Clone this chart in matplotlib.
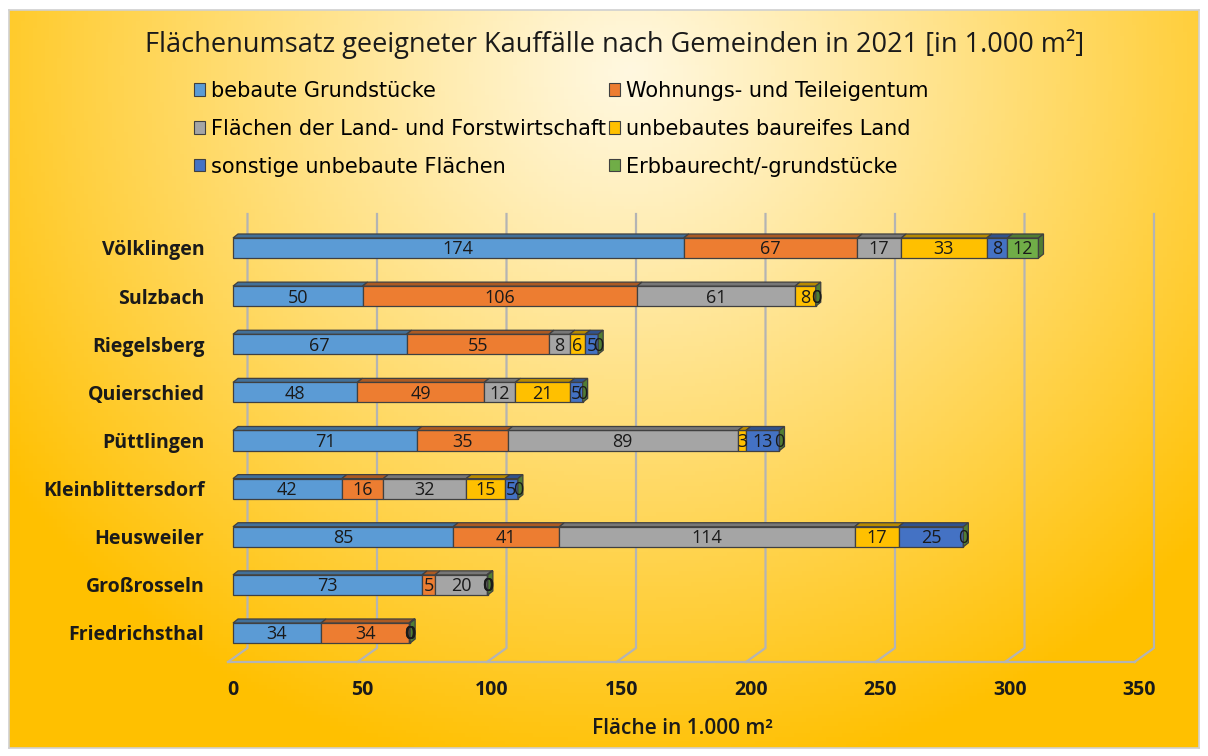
import numpy as np
import matplotlib.pyplot as plt
from matplotlib.patches import Polygon, Patch
from matplotlib.colors import to_rgb

plt.rcParams['font.family'] = ['Open Sans', 'DejaVu Sans']

# data (bottom to top, as drawn)
gemeinden = ['Friedrichsthal', 'Großrosseln', 'Heusweiler', 'Kleinblittersdorf',
             'Püttlingen', 'Quierschied', 'Riegelsberg', 'Sulzbach', 'Völklingen']
bebaut = [34, 73, 85, 42, 71, 48, 67, 50, 174]
wohnung = [34, 5, 41, 16, 35, 49, 55, 106, 67]
landforst = [0, 20, 114, 32, 89, 12, 8, 61, 17]
baureif = [0.4, 0, 17, 15, 3, 21, 6, 8, 33]
sonstige = [0, 0.4, 25, 5, 13, 5, 5, 0, 8]
erbbau = [0, 0, 0, 0, 0, 0, 0, 0, 12]

series_names = ['bebaute Grundstücke', 'Wohnungs- und Teileigentum',
                'Flächen der Land- und Forstwirtschaft', 'unbebautes baureifes Land',
                'sonstige unbebaute Flächen', 'Erbbaurecht/-grundstücke']
series = [bebaut, wohnung, landforst, baureif, sonstige, erbbau]
colors = ['#5B9BD5', '#ED7D31', '#A5A5A5', '#FFC000', '#4472C4', '#70AD47']
xticks = [0, 50, 100, 150, 200, 250, 300, 350]

W, H = 1208, 756
fig = plt.figure(figsize=(W / 100, H / 100), dpi=100)

# background gradient with thin grey frame
bg = fig.add_axes([9 / W, 1 - 748 / H, 1190 / W, 738 / H])
gx, gy = np.meshgrid(np.linspace(0, 1190, 300), np.linspace(0, 738, 200))
t = np.sqrt(((gx - 620) / 760) ** 2 + ((gy - 60) / 720) ** 2)
t = np.clip(t, 0, 1) ** 1.1
light = np.array(to_rgb('#FFF8E0'))
dark = np.array(to_rgb('#FFC000'))
img = light[None, None, :] * (1 - t[..., None]) + dark[None, None, :] * t[..., None]
bg.imshow(img, aspect='auto', extent=[0, 1, 0, 1], origin='upper')
bg.set_xticks([])
bg.set_yticks([])
for s in bg.spines.values():
    s.set_color('#D0D0D0')
    s.set_linewidth(1.2)

# main axes: x=0 at px 233, 2.59 px per unit; categories 48.125 px apart
pxu = 2.59
x_lo, x_hi = -1.93, 360
ax_left = 233 + x_lo * pxu
ax_right = 233 + x_hi * pxu
top_px, bot_px = 214, 662
ax = fig.add_axes([ax_left / W, 1 - bot_px / H, (ax_right - ax_left) / W, (bot_px - top_px) / H])
ax.patch.set_alpha(0)
cat = 48.125
ax.set_xlim(x_lo, x_hi)
ax.set_ylim((633 - bot_px) / cat, (633 - top_px) / cat)

# gridlines on back wall and floor
back_dx = 14.5 / pxu
floor_y_back = (633 - 648) / cat
y_top = (633 - top_px) / cat
y_front = (633 - bot_px) / cat
for v in xticks:
    ax.plot([v + back_dx, v + back_dx, v - 5 / pxu], [y_top, floor_y_back, y_front],
            color='#B4B4B4', lw=1.6, clip_on=False, zorder=1)
ax.plot([-5 / pxu, 350 - 5 / pxu], [y_front, y_front], color='#B4B4B4', lw=1.6,
        clip_on=False, zorder=1)

# 3d-looking stacked bars
y = np.arange(len(gemeinden))
h = 0.208
ddx, ddy = 5 / pxu, 4 / cat
edge = '#404040'
left = np.zeros(len(gemeinden))
for k, (vals, col) in enumerate(zip(series, colors)):
    vals = np.array(vals, dtype=float)
    dcol = tuple(c * 0.72 for c in to_rgb(col))
    ax.barh(y, vals, left=left, height=2 * h, color=col, edgecolor=edge, lw=0.9, zorder=3)
    for i in range(len(gemeinden)):
        x0, x1 = left[i], left[i] + vals[i]
        if vals[i] > 0:
            ax.add_patch(Polygon([[x0, y[i] + h], [x1, y[i] + h], [x1 + ddx, y[i] + h + ddy],
                                  [x0 + ddx, y[i] + h + ddy]], closed=True,
                                 facecolor=dcol, edgecolor=edge, lw=0.9, zorder=3))
        if k == len(series) - 1:
            ax.add_patch(Polygon([[x1, y[i] - h], [x1, y[i] + h], [x1 + ddx, y[i] + h + ddy],
                                  [x1 + ddx, y[i] - h + ddy]], closed=True,
                                 facecolor=dcol, edgecolor=edge, lw=0.9, zorder=3))
        ax.text((x0 + x1) / 2, y[i] - 0.03, '%.0f' % vals[i], ha='center', va='center',
                fontsize=13, color='#1A1A1A', zorder=5)
    left = left + vals

ax.set_yticks(y)
ax.set_yticklabels(gemeinden, fontsize=14, fontweight='bold', color='#1A1A1A')
ax.set_xticks(xticks)
ax.set_xticklabels([str(v) for v in xticks], fontsize=14, fontweight='bold', color='#1A1A1A')
ax.tick_params(length=0)
ax.tick_params(axis='y', pad=17)
ax.tick_params(axis='x', pad=13)
for s in ax.spines.values():
    s.set_visible(False)
ax.set_xlabel('Fläche in 1.000 m²', fontsize=15, fontweight='semibold', color='#1A1A1A')
ax.xaxis.set_label_coords((682 - ax_left) / (ax_right - ax_left), (bot_px - 718) / (bot_px - top_px))

fig.text(615 / W, 1 - 44 / H, 'Flächenumsatz geeigneter Kauffälle nach Gemeinden in 2021 [in 1.000 m²]',
         ha='center', va='center', fontsize=19.5, color='#1A1A1A')

# legend, rows: blue/orange, grey/yellow, darkblue/green
order = [0, 2, 4, 1, 3, 5]
handles = [Patch(facecolor=colors[i], edgecolor='#404040', lw=0.8, label=series_names[i]) for i in order]
fig.legend(handles=handles, ncol=2, loc='upper left', bbox_to_anchor=(175 / W, 1 - 62 / H),
           frameon=False, prop={'family': 'DejaVu Sans', 'size': 15}, handlelength=0.55,
           handleheight=0.55, handletextpad=0.3, columnspacing=0.1, labelspacing=0.86)

fig.savefig('out.png', dpi=100)
